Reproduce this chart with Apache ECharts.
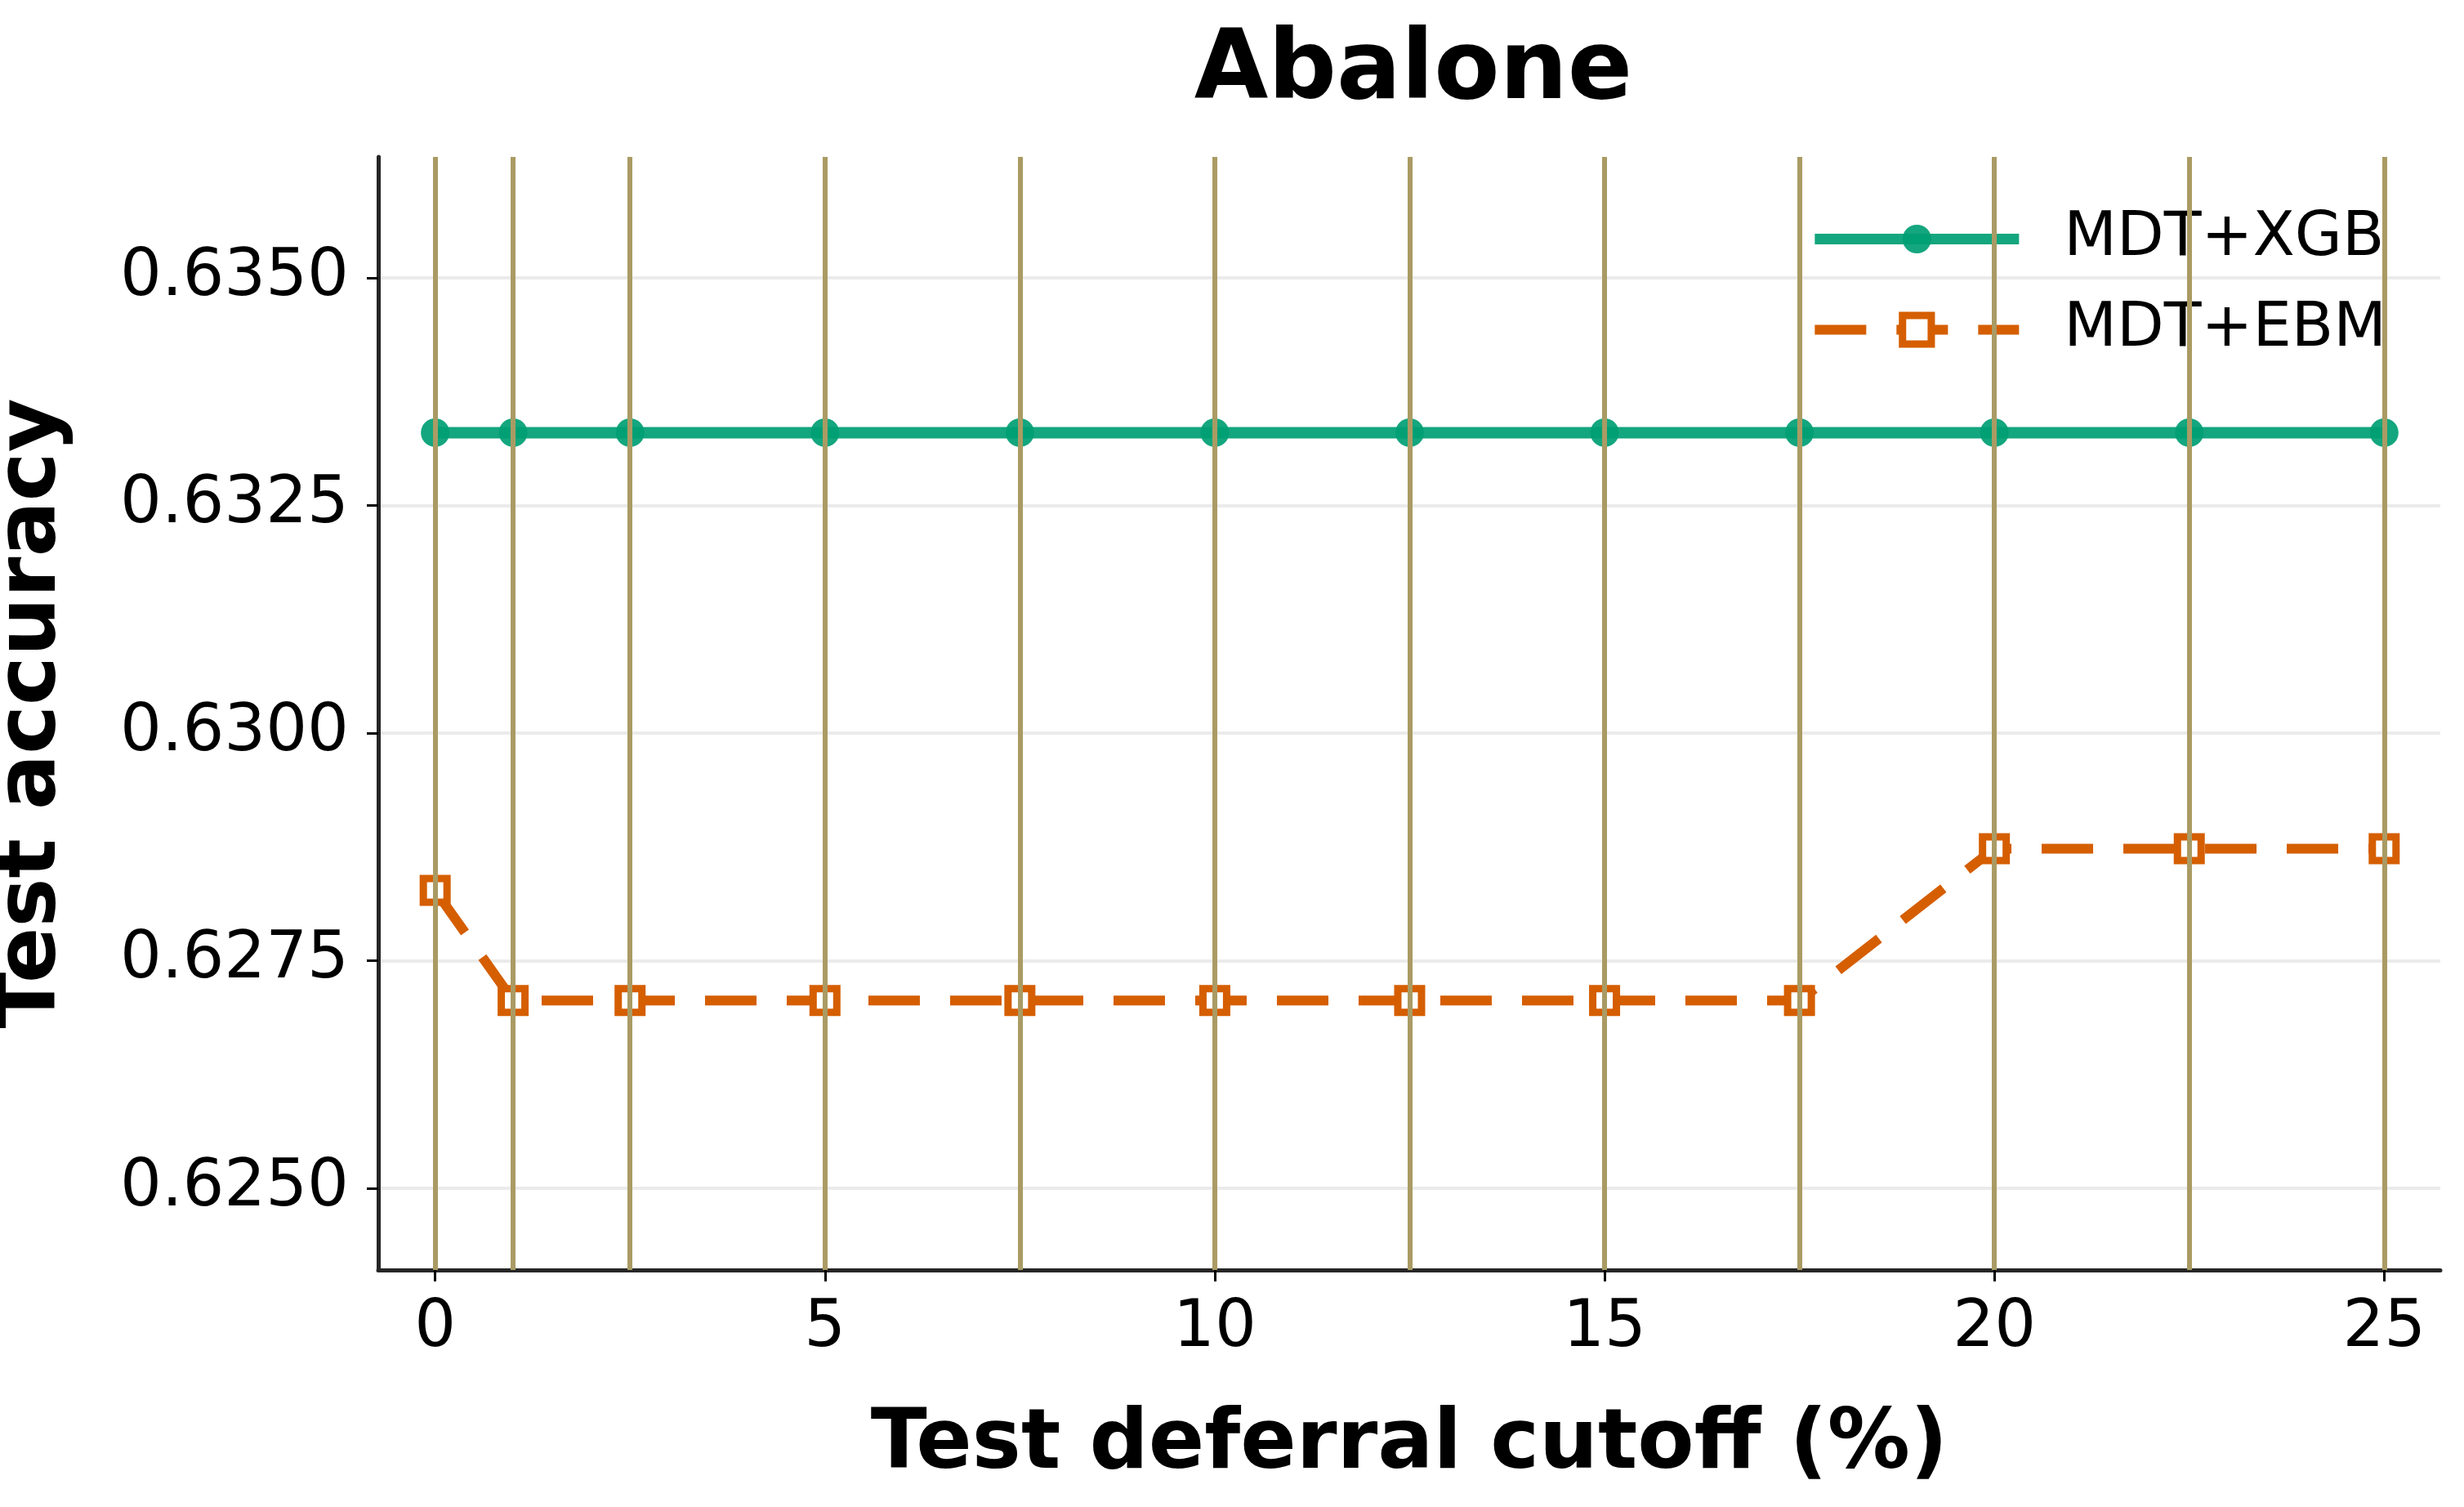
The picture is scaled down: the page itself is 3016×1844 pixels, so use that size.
<!DOCTYPE html>
<html>
<head>
<meta charset="utf-8">
<script src="https://cdn.jsdelivr.net/npm/echarts@6/dist/echarts.min.js"></script>
<style>
  html, body { margin: 0; padding: 0; background: #fff; }
  #chart { width: 3016px; height: 1844px; }
</style>
</head>
<body>
<div id="chart"></div>
<script>
// deferral cutoffs (%)
var cutoffs = [0, 1, 2.5, 5, 7.5, 10, 12.5, 15, 17.5, 20, 22.5, 25];
// test accuracy per method
var xgbAcc = [0.6333, 0.6333, 0.6333, 0.6333, 0.6333, 0.6333, 0.6333, 0.6333, 0.6333, 0.6333, 0.6333, 0.6333];
var ebmAcc = [0.62827, 0.62706, 0.62706, 0.62706, 0.62706, 0.62706, 0.62706, 0.62706, 0.62706, 0.62873, 0.62873, 0.62873];
// tick labels
var xTicks = [0, 5, 10, 15, 20, 25];
var yTicks = [0.6250, 0.6275, 0.6300, 0.6325, 0.6350];

var FONT = 'DejaVu Sans';
var GREEN = '#009E73';
var ORANGE = '#D55E00';

function pairs(xs, ys) {
    return xs.map(function (x, i) { return [x, ys[i]]; });
}

var chart = echarts.init(document.getElementById('chart'), null, { renderer: 'canvas' });

var option = {
    backgroundColor: '#ffffff',
    animation: false,
    title: {
        text: 'Abalone',
        left: 1725,
        top: 26,
        textAlign: 'center',
        textStyle: { fontFamily: FONT, fontSize: 117, fontWeight: 'bold', color: '#000' }
    },
    grid: { left: 463, right: 29, top: 192, bottom: 290, containLabel: false, outerBoundsMode: 'none' },
    legend: {
        right: 90,
        top: 250,
        orient: 'vertical',
        itemWidth: 250,
        itemHeight: 44,
        itemGap: 36,
        data: [
            {
                name: 'MDT+XGB',
                lineStyle: { color: GREEN, width: 13, opacity: 0.92 },
                itemStyle: { color: GREEN, opacity: 0.92 }
            },
            {
                name: 'MDT+EBM',
                lineStyle: { color: ORANGE, width: 12, type: [63, 37], cap: 'butt' },
                itemStyle: { color: '#ffffff', borderColor: ORANGE, borderWidth: 9 }
            }
        ],
        textStyle: { fontFamily: FONT, fontSize: 75, lineHeight: 75, color: '#000', padding: [0, 0, 0, 50] }
    },
    xAxis: {
        type: 'value',
        min: -0.73,
        max: 25.72,
        name: 'Test deferral cutoff (%)',
        nameLocation: 'middle',
        nameGap: 165,
        nameTextStyle: { fontFamily: FONT, fontSize: 101, fontWeight: 'bold', color: '#000' },
        axisLine: { show: true, onZero: false, lineStyle: { color: '#262626', width: 5 } },
        axisTick: { show: true, inside: false, length: 14, lineStyle: { color: '#000', width: 3 }, customValues: xTicks },
        axisLabel: { fontFamily: FONT, fontSize: 80, color: '#000', margin: 32, customValues: xTicks },
        splitLine: { show: false }
    },
    yAxis: {
        type: 'value',
        min: 0.62410,
        max: 0.63633,
        name: 'Test accuracy',
        nameLocation: 'middle',
        nameGap: 372,
        nameTextStyle: { fontFamily: FONT, fontSize: 101, fontWeight: 'bold', color: '#000' },
        axisLine: { show: true, onZero: false, lineStyle: { color: '#262626', width: 5 } },
        axisTick: { show: true, inside: false, length: 14, lineStyle: { color: '#000', width: 3 }, customValues: yTicks },
        axisLabel: {
            fontFamily: FONT, fontSize: 80, color: '#000', margin: 36, customValues: yTicks,
            formatter: function (v) { return v.toFixed(4); }
        },
        splitLine: { show: true, lineStyle: { color: '#ebebeb', width: 4 } }
    },
    series: [
        {
            // vertical reference lines at each cutoff
            name: 'guides',
            type: 'line',
            data: [],
            z: 1,
            silent: true,
            markLine: {
                silent: true,
                symbol: ['none', 'none'],
                label: { show: false },
                animation: false,
                lineStyle: { color: '#aa9b64', width: 6, type: 'solid' },
                data: cutoffs.map(function (v) { return { xAxis: v }; })
            }
        },
        {
            name: 'MDT+XGB',
            type: 'line',
            data: pairs(cutoffs, xgbAcc),
            z: 3,
            symbol: 'circle',
            symbolSize: 35,
            lineStyle: { color: GREEN, width: 14, opacity: 0.92 },
            itemStyle: { color: GREEN, opacity: 0.92 }
        },
        {
            name: 'MDT+EBM',
            type: 'line',
            data: pairs(cutoffs, ebmAcc),
            z: 4,
            symbol: 'rect',
            symbolSize: 29,
            lineStyle: { color: ORANGE, width: 12, type: [63, 37], cap: 'butt' },
            itemStyle: { color: '#ffffff', borderColor: ORANGE, borderWidth: 9, opacity: 1 }
        }
    ]
};

chart.setOption(option);
</script>
</body>
</html>
